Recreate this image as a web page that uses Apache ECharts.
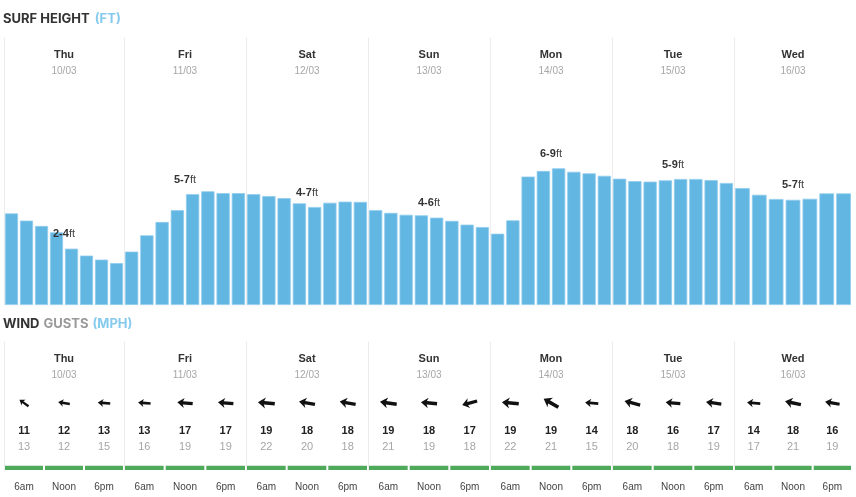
<!DOCTYPE html>
<html>
<head>
<meta charset="utf-8">
<script src="https://cdn.jsdelivr.net/npm/echarts@6/dist/echarts.min.js"></script>
<style>
html,body{margin:0;padding:0;background:#fff;}
#c{width:856px;height:497px;}
</style>
</head>
<body>
<div id="c"></div>
<script>
// ---------- DATA ----------
const days = ['Thu', 'Fri', 'Sat', 'Sun', 'Mon', 'Tue', 'Wed'];
const dates = ['10/03', '11/03', '12/03', '13/03', '14/03', '15/03', '16/03'];
const surfRanges = ['2-4', '5-7', '4-7', '4-6', '6-9', '5-9', '5-7'];
const hours8 = ['00', '03', '06', '09', '12', '15', '18', '21'];
const hours7 = ['00', '03', '06', '09', '12', '15', '18'];
// surf height per 3-hour slot (ft, estimated)
const surfThu = [3.43, 3.16, 2.96, 2.72, 2.11, 1.85, 1.70, 1.57];
const surfFri = [2.00, 2.61, 3.11, 3.55, 4.15, 4.26, 4.19, 4.19];
const surfSat = [4.15, 4.08, 4.00, 3.81, 3.67, 3.83, 3.87, 3.86];
const surfSun = [3.55, 3.45, 3.38, 3.36, 3.27, 3.15, 3.01, 2.92];
const surfMon = [2.67, 3.17, 4.81, 5.02, 5.12, 4.99, 4.93, 4.84];
const surfTue = [4.73, 4.64, 4.62, 4.67, 4.72, 4.72, 4.68, 4.57];
const surfWed = [4.38, 4.13, 3.97, 3.94, 3.98, 4.18, 4.18];
const surfByDay = [surfThu, surfFri, surfSat, surfSun, surfMon, surfTue, surfWed];
const labelSlot = [4, 4, 4, 4, 4, 4, 3];

const timeLabels = ['6am', 'Noon', '6pm'];
const windSpeed = [11, 12, 13, 13, 17, 17, 19, 18, 18, 19, 18, 17, 19, 19, 14, 18, 16, 17, 14, 18, 16];
const windGust  = [13, 12, 15, 16, 19, 19, 22, 20, 18, 21, 19, 18, 22, 21, 15, 20, 18, 19, 17, 21, 19];
// direction the wind comes from (degrees)
const windDir   = [125, 100, 95, 95, 95, 95, 95, 100, 100, 98, 95, 75, 95, 120, 95, 105, 95, 98, 95, 102, 100];

// ---------- LAYOUT ----------
const bounds = [4, 124, 246, 368, 490, 612, 734, 852];
const SURF_TOP = 38, SURF_H = 267;
const WIND_TOP = 342, WIND_H = 128;
const sepColor = '#ececec';
const barColor = '#62b6e2';
const txtFont = '"Liberation Sans", Arial, sans-serif';

const grid = [], xAxis = [], yAxis = [], series = [];

function headerAxis(gi, d) {
  return {
    type: 'category', gridIndex: gi, position: 'top', data: [days[d]],
    axisLine: {show: false}, axisTick: {show: false},
    axisLabel: {
      inside: true, margin: 9, interval: 0,
      formatter: v => '{d|' + v + '}\n{t|' + dates[d] + '}',
      rich: {
        d: {fontFamily: txtFont, fontSize: 11, fontWeight: 'bold', color: '#333', lineHeight: 16, align: 'center'},
        t: {fontFamily: txtFont, fontSize: 10, color: '#a6a6a6', lineHeight: 16, align: 'center'}
      }
    }
  };
}

// surf grids
for (let d = 0; d < 7; d++) {
  const w = bounds[d + 1] - bounds[d];
  grid.push({left: bounds[d], width: w, top: SURF_TOP, height: SURF_H});
  const vals = surfByDay[d];
  const n = vals.length;
  const cats = n === 8 ? hours8 : hours7;
  xAxis.push({type: 'category', gridIndex: d, data: cats, show: false});
  xAxis.push(headerAxis(d, d));
  yAxis.push({
    type: 'value', gridIndex: d, min: 0, max: 10,
    axisLine: {show: true, lineStyle: {color: sepColor, width: 1}},
    axisTick: {show: false}, axisLabel: {show: false}, splitLine: {show: false}
  });
  const band = w / n;
  const li = labelSlot[d];
  const off = (n / 2 - (li + 0.5)) * band;
  const data = vals.map((v, i) => {
    if (i !== li) return v;
    return {
      value: v,
      label: {
        show: true, position: 'top', distance: 9, offset: [off, 0],
        formatter: '{b|' + surfRanges[d] + '}{n|ft}',
        rich: {
          b: {fontFamily: txtFont, fontSize: 11, fontWeight: 'bold', color: '#333'},
          n: {fontFamily: txtFont, fontSize: 11, color: '#444'}
        }
      }
    };
  });
  series.push({
    type: 'bar', xAxisIndex: 2 * d, yAxisIndex: d, data: data,
    barCategoryGap: '13%',
    itemStyle: {color: barColor, borderColor: '#8fcbed', borderWidth: 0.8},
    silent: true, animation: false
  });
}

// wind grids
function arrowPath() {
  return 'M-8,0 L-0.8,-5.2 L-2.2,-1.7 L8,-1.7 L8,1.7 L-2.2,1.7 L-0.8,5.2 Z';
}
for (let d = 0; d < 7; d++) {
  const gi = 7 + d;
  const w = bounds[d + 1] - bounds[d];
  grid.push({left: bounds[d], width: w, top: WIND_TOP, height: WIND_H});
  xAxis.push({
    type: 'category', gridIndex: gi, data: timeLabels, position: 'bottom',
    axisLine: {show: false}, axisTick: {show: false},
    axisLabel: {fontFamily: txtFont, fontSize: 10, color: '#444', margin: 12, interval: 0}
  });
  xAxis.push(headerAxis(gi, d));
  yAxis.push({
    type: 'value', gridIndex: gi, min: 0, max: 1,
    axisLine: {show: true, lineStyle: {color: sepColor, width: 1}},
    axisTick: {show: false}, axisLabel: {show: false}, splitLine: {show: false}
  });
  const data = [];
  for (let k = 0; k < 3; k++) {
    const idx = d * 3 + k;
    data.push([k, windSpeed[idx], windGust[idx], windDir[idx]]);
  }
  series.push({
    type: 'custom', xAxisIndex: 14 + 2 * d, yAxisIndex: gi, data: data, clip: false,
    encode: {x: 0},
    silent: true, animation: false,
    renderItem: function (params, api) {
      const p = api.coord([api.value(0), 0]);
      const band = api.size([1, 0])[0];
      const x = p[0], bottom = p[1];
      const spd = api.value(1), gst = api.value(2), dir = api.value(3);
      const sc = 0.69 + (spd - 11) * 0.046;
      return {
        type: 'group',
        children: [
          {type: 'rect', shape: {x: x - band / 2 + 1, y: bottom - 4.3, width: band - 2, height: 4.3},
           style: {fill: '#4fa95a'}},
          {type: 'path', x: x, y: bottom - 67, scaleX: sc, scaleY: sc,
           rotation: -(dir - 90) * Math.PI / 180,
           shape: {pathData: arrowPath()}, style: {fill: '#111'}},
          {type: 'text', x: x, y: bottom - 39.5,
           style: {text: String(spd), fontFamily: txtFont, fontSize: 11, fontWeight: 'bold', fill: '#222',
                   align: 'center', verticalAlign: 'middle'}},
          {type: 'text', x: x, y: bottom - 23,
           style: {text: String(gst), fontFamily: txtFont, fontSize: 11, fill: '#a6a6a6',
                   align: 'center', verticalAlign: 'middle'}}
        ]
      };
    }
  });
}

const titleFont = 'Inter, "Open Sans", sans-serif';
const option = {
  backgroundColor: '#fff',
  animation: false,
  title: [
    {
      left: 3, top: 13, padding: 0,
      text: '{a|SURF HEIGHT}{c|(FT)}',
      textStyle: {
        rich: {
          a: {fontFamily: titleFont, fontSize: 13, fontWeight: 'bold', color: '#333'},
          c: {fontFamily: titleFont, fontSize: 13, color: '#86caee', padding: [0, 0, 0, 5]}
        }
      }
    },
    {
      left: 3, top: 318, padding: 0,
      text: '{a|WIND}{g|GUSTS}{c|(MPH)}',
      textStyle: {
        rich: {
          a: {fontFamily: titleFont, fontSize: 13, fontWeight: 'bold', color: '#333'},
          g: {fontFamily: titleFont, fontSize: 13, color: '#999', padding: [0, 0, 0, 4]},
          c: {fontFamily: titleFont, fontSize: 13, color: '#86caee', padding: [0, 0, 0, 4]}
        }
      }
    }
  ],
  grid: grid, xAxis: xAxis, yAxis: yAxis, series: series
};
const chart = echarts.init(document.getElementById('c'), null, {renderer: 'canvas'});
chart.setOption(option);
</script>
</body>
</html>
